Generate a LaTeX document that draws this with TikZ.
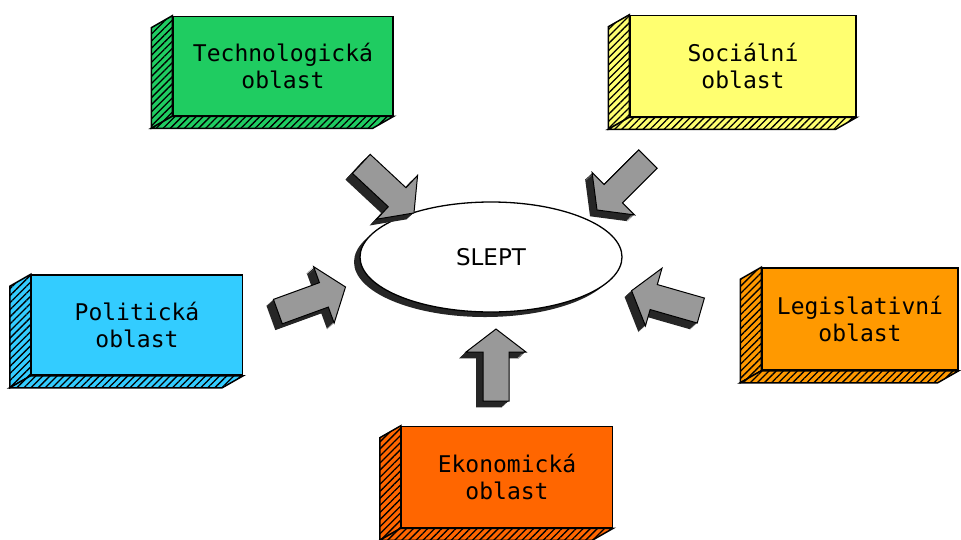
\documentclass[tikz,border=0pt]{standalone}
\usepackage{fontspec}
\newfontfamily\oblastfont{DejaVu Sans Mono}
\newfontfamily\sleptfont{DejaVu Sans}
\usetikzlibrary{calc}
\usetikzlibrary{shapes.geometric}
\usetikzlibrary{shapes.arrows}
\usetikzlibrary{patterns.meta}
\definecolor{techgreen}{RGB}{31,204,97}
\definecolor{socyellow}{RGB}{255,255,112}
\definecolor{polcyan}{RGB}{51,204,255}
\definecolor{legorange}{RGB}{255,153,0}
\definecolor{ekoorange}{RGB}{255,102,0}

\begin{document}
\begin{tikzpicture}[x=1pt,y=1pt,
		oblast/.style={draw,line width=1.5pt,align=center,inner sep=0pt,
			font=\oblastfont\fontsize{23}{27}\selectfont},
		hub/.style={ellipse,draw,line width=1.3pt,fill=white,minimum width=262,
			minimum height=110,font=\sleptfont\fontsize{23}{27}\selectfont},
		blok/.style={single arrow,fill=black!40,draw,line width=1pt,inner xsep=0pt,
			inner ysep=12.5pt,minimum height=72,single arrow head extend=17,
			single arrow tip angle=105,single arrow head indent=0},
		blokside/.style={blok,fill=black!85,draw=none},
		side/.style={line width=1.5pt,pattern={Lines[angle=45,distance=5pt,line width=1.3pt]}}
		]
		\useasboundingbox (0,0) rectangle (961,-539);
		% oblasti
		\node[oblast,fill=techgreen,minimum width=220,minimum height=99] (tech) at (283,-66) {Technologická\\oblast};
		\node[oblast,fill=socyellow,minimum width=226,minimum height=101] (soc) at (743,-66) {Sociální\\oblast};
		\node[oblast,fill=polcyan,minimum width=211,minimum height=100] (pol) at (137,-325) {Politická\\oblast};
		\node[oblast,fill=legorange,minimum width=196,minimum height=102] (leg) at (860,-319) {Legislativní\\oblast};
		\node[oblast,fill=ekoorange,minimum width=211,minimum height=101] (eko) at (507,-477) {Ekonomická\\oblast};
		\foreach \b/\c in {tech/techgreen,soc/socyellow,pol/polcyan,leg/legorange,eko/ekoorange}{
			\draw[side,preaction={fill=\c}] (\b.north west) -- (\b.south west) -- ++(-21,-12)
				-- ($(\b.north west)+(-21,-12)$) -- cycle;
			\draw[side,preaction={fill=\c}] (\b.south west) -- (\b.south east) -- ++(-21,-12)
				-- ($(\b.south west)+(-21,-12)$) -- cycle;
		}
		% SLEPT
		\node[hub,fill=black!85,draw=none] at (485,-262) {\phantom{SLEPT}};
		\node[hub] (slept) at (491,-257) {SLEPT};
		% sipky
		\foreach \nm/\x/\y/\a in {ta/384/-185/-43,sa/626/-181/225,pa/307/-301/20,la/671/-302/164,ea/496/-370/90}{
			\foreach \k in {7,6,...,1}
				\node[blokside,rotate=\a] at ($(\x,\y)+(-\k,-0.9*\k)$) {};
			\node[blok,rotate=\a] (\nm) at (\x,\y) {};
		}
\end{tikzpicture}
\end{document}
